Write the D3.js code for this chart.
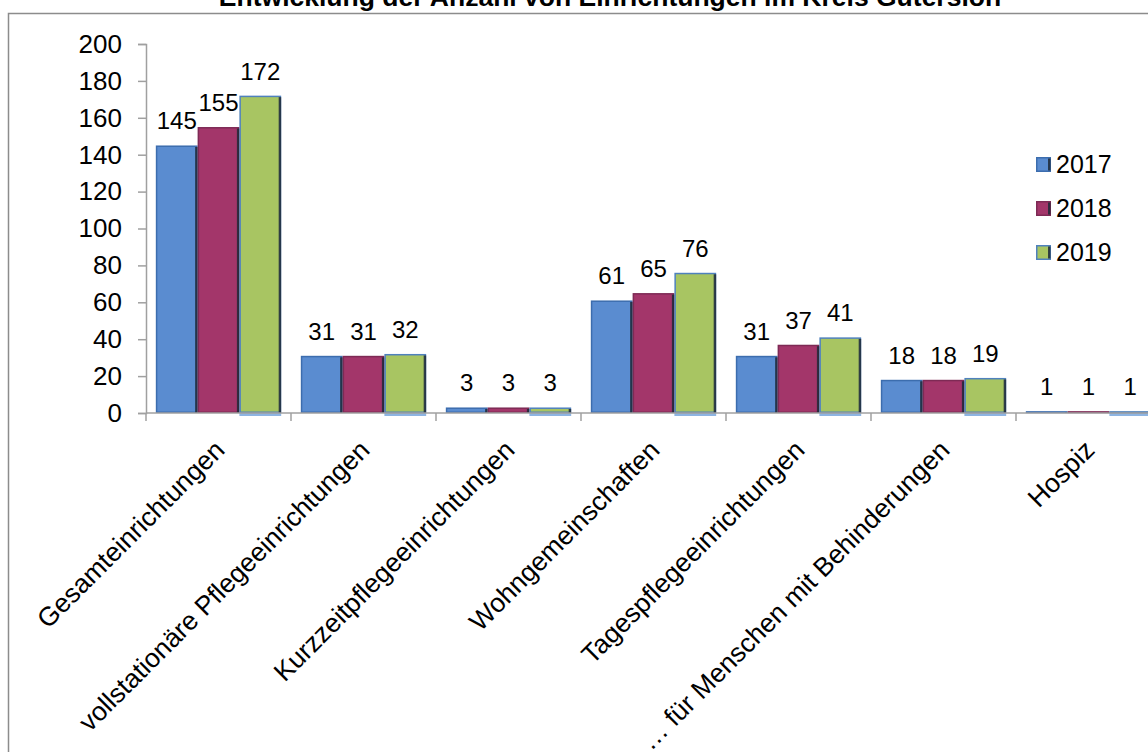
<!DOCTYPE html>
<html>
<head>
<meta charset="utf-8">
<script src="https://cdn.jsdelivr.net/npm/d3@7"></script>
<style>
  html, body { margin: 0; padding: 0; background: #fff; }
  svg { display: block; font-family: "Liberation Sans", Arial, sans-serif; }
</style>
</head>
<body>
<svg id="chart" width="1148" height="752"></svg>
<script>
// Einrichtungen im Kreis Gütersloh, 2017–2019
const categories = [
  "Gesamteinrichtungen",
  "vollstationäre Pflegeeinrichtungen",
  "Kurzzeitpflegeeinrichtungen",
  "Wohngemeinschaften",
  "Tagespflegeeinrichtungen",
  "… für Menschen mit Behinderungen",
  "Hospiz"
];
const years = ["2017", "2018", "2019"];
const values2017 = [145, 31, 3, 61, 31, 18, 1];
const values2018 = [155, 31, 3, 65, 37, 18, 1];
const values2019 = [172, 32, 3, 76, 41, 19, 1];
const yTicks = [0, 20, 40, 60, 80, 100, 120, 140, 160, 180, 200];
const title = "Entwicklung der Anzahl von Einrichtungen im Kreis Gütersloh";

const seriesValues = [values2017, values2018, values2019];
const fills   = ["#5A8CD0", "#A3366A", "#A8C562"];
const strokes = ["#3C6DAE", "#7E2A55", "#4F81BD"];

const svg = d3.select("#chart");
const W = 1148, H = 752;

const plot = { left: 146, right: 1161, top: 44, bottom: 413 };

// outer frame of the chart area
svg.append("rect")
  .attr("x", 8.5).attr("y", 13.5)
  .attr("width", W + 20).attr("height", H + 20)
  .attr("fill", "none").attr("stroke", "#8C8C8C").attr("stroke-width", 1.5);

// title
svg.append("text")
  .attr("x", 610).attr("y", 6)
  .attr("text-anchor", "middle")
  .attr("font-size", 26.5).attr("font-weight", "bold")
  .attr("fill", "#000")
  .text(title);

const x = d3.scaleBand().domain(categories)
  .range([plot.left, plot.right]).paddingInner(0).paddingOuter(0);
const xs = d3.scaleBand().domain(years)
  .range([0, x.bandwidth()]).paddingInner(0).paddingOuter(0.235);
const y = d3.scaleLinear().domain([0, 200]).range([plot.bottom, plot.top]);

// y axis
const yAxis = svg.append("g")
  .attr("transform", `translate(${plot.left},0)`)
  .call(d3.axisLeft(y).tickValues(yTicks).tickSize(8).tickPadding(16));
yAxis.select(".domain").attr("stroke", "#A0A0A0").attr("stroke-width", 1.5);
yAxis.selectAll(".tick line").attr("stroke", "#A0A0A0").attr("stroke-width", 1.5);
yAxis.selectAll(".tick text")
  .attr("font-size", 26).attr("fill", "#000")
  .attr("font-family", "Liberation Sans, Arial, sans-serif");

// bars
const data = [];
categories.forEach((c, i) => {
  years.forEach((yr, j) => {
    data.push({ cat: c, year: yr, s: j, v: seriesValues[j][i] });
  });
});

const bars = svg.append("g");
const g = bars.selectAll("g.bar").data(data).join("g").attr("class", "bar");

// light reflection strip under the 2019 bars
g.filter(d => d.s === 2).append("rect")
  .attr("x", d => x(d.cat) + xs(d.year))
  .attr("y", y(0))
  .attr("width", xs.bandwidth())
  .attr("height", 3)
  .attr("fill", "#8DB4E2");

g.append("rect")
  .attr("x", d => x(d.cat) + xs(d.year) + 0.75)
  .attr("y", d => y(d.v) + 0.75)
  .attr("width", xs.bandwidth() - 1.5)
  .attr("height", d => Math.max(0.5, y(0) - y(d.v) - 1.5))
  .attr("fill", d => fills[d.s])
  .attr("stroke", d => strokes[d.s])
  .attr("stroke-width", 1.5);

// dark shadow edge on the right side of each bar
g.append("rect")
  .attr("x", d => x(d.cat) + xs(d.year) + xs.bandwidth() - 2.5)
  .attr("y", d => y(d.v) + 1.5)
  .attr("width", 2.5)
  .attr("height", d => Math.max(0, y(0) - y(d.v) - 1.5))
  .attr("fill", "#1E2A38").attr("opacity", 0.85);

// value labels
g.append("text")
  .attr("x", d => x(d.cat) + xs(d.year) + xs.bandwidth() / 2)
  .attr("y", d => y(d.v) - 16)
  .attr("text-anchor", "middle")
  .attr("font-size", 24).attr("fill", "#000")
  .text(d => d.v);

// x axis
const xAxisG = svg.append("g").attr("transform", `translate(0,${plot.bottom})`);
xAxisG.append("line")
  .attr("x1", plot.left).attr("x2", plot.right)
  .attr("stroke", "#A0A0A0").attr("stroke-width", 1.5);
const boundaries = categories.map(c => x(c)).concat([plot.right]);
xAxisG.selectAll("line.tick").data(boundaries).join("line")
  .attr("class", "tick")
  .attr("x1", d => d).attr("x2", d => d)
  .attr("y1", 0).attr("y2", 8)
  .attr("stroke", "#A0A0A0").attr("stroke-width", 1.5);

xAxisG.selectAll("text.cat").data(categories).join("text")
  .attr("class", "cat")
  .attr("transform", c => `translate(${x(c) + x.bandwidth() / 2 + 1},${32}) rotate(-45)`)
  .attr("text-anchor", "end")
  .attr("dy", "0.35em")
  .attr("font-size", 26.5).attr("fill", "#000")
  .text(c => c);

// legend
const legend = svg.append("g").attr("transform", "translate(1036,157)");
const li = legend.selectAll("g").data(years).join("g")
  .attr("transform", (d, i) => `translate(0,${i * 44})`);
li.append("rect")
  .attr("x", 0.75).attr("y", 0.75).attr("width", 13.5).attr("height", 13.5)
  .attr("fill", (d, i) => fills[i])
  .attr("stroke", (d, i) => strokes[i]).attr("stroke-width", 1.5);
li.append("rect")
  .attr("x", 12).attr("y", 1.5).attr("width", 2.5).attr("height", 12)
  .attr("fill", "#1E2A38").attr("opacity", 0.85);
li.append("text")
  .attr("x", 20).attr("y", 7.5).attr("dy", "0.35em")
  .attr("font-size", 25).attr("fill", "#000")
  .text(d => d);
</script>
</body>
</html>
